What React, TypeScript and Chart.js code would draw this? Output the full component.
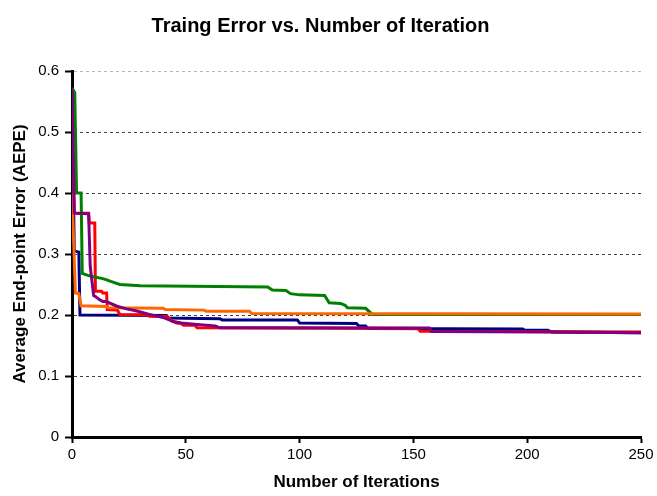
import React, { useEffect, useRef } from 'react';
import { Chart, registerables } from 'chart.js';

Chart.register(...registerables);

// ---- data (iteration, AEPE) ----
const blueIter = [0, 1, 3, 3.5, 41.5, 42, 65, 66, 99, 100, 125, 126, 129, 130, 198, 199, 209, 211, 250];
const blueAEPE = [0.572, 0.305, 0.303, 0.2, 0.199, 0.195, 0.194, 0.192, 0.192, 0.187, 0.186, 0.182, 0.182, 0.178, 0.177, 0.175, 0.175, 0.172, 0.171];

const greenIter = [0, 1.2, 2, 4, 4.5, 7, 9, 13, 15, 17, 21, 30, 86, 88, 94, 96, 100, 111, 113, 118, 120, 121, 129, 132, 250];
const greenAEPE = [0.572, 0.565, 0.4, 0.4, 0.268, 0.265, 0.263, 0.26, 0.258, 0.255, 0.25, 0.248, 0.246, 0.241, 0.24, 0.235, 0.233, 0.232, 0.22, 0.219, 0.216, 0.212, 0.211, 0.201, 0.201];

const orangeIter = [0, 1.5, 3, 4, 15, 16, 40, 41, 58, 59, 78, 79, 250];
const orangeAEPE = [0.4, 0.236, 0.235, 0.215, 0.214, 0.212, 0.211, 0.209, 0.208, 0.206, 0.206, 0.2025, 0.2015];

const redIter = [0, 1, 7.3, 7.6, 10, 10.3, 13, 13.5, 15.2, 15.5, 20, 21, 33, 34, 42, 44, 46, 48, 49, 54, 55, 152, 153, 250];
const redAEPE = [0.52, 0.367, 0.367, 0.351, 0.351, 0.239, 0.239, 0.236, 0.236, 0.209, 0.208, 0.2008, 0.2005, 0.198, 0.197, 0.19, 0.187, 0.186, 0.183, 0.183, 0.179, 0.178, 0.1735, 0.172];

const purpleIter = [0, 1, 7.3, 8, 9.5, 10, 12, 13.5, 15, 19.8, 24, 28, 34, 40, 44, 48, 55, 63, 65, 157, 158, 210, 250];
const purpleAEPE = [0.572, 0.367, 0.366, 0.28, 0.232, 0.231, 0.2254, 0.222, 0.222, 0.2144, 0.21, 0.207, 0.201, 0.196, 0.19, 0.187, 0.1845, 0.182, 0.179, 0.1785, 0.173, 0.172, 0.171];

const xTicks = [0, 50, 100, 150, 200, 250];
const yTickLabels = ['0', '0.1', '0.2', '0.3', '0.4', '0.5', '0.6'];

const FONT = '"Liberation Sans", Arial, sans-serif';

const toPts = (xs: number[], ys: number[]) => xs.map((x, i) => ({ x, y: ys[i] }));

export default function App() {
  const ref = useRef<HTMLCanvasElement | null>(null);

  useEffect(() => {
    if (!ref.current) return;
    const mk = (data: { x: number; y: number }[], color: string) => ({
      data,
      borderColor: color,
      backgroundColor: color,
      borderWidth: 3,
      pointRadius: 0,
      tension: 0,
      fill: false,
    });
    const chart = new Chart(ref.current, {
      type: 'line',
      data: {
        datasets: [
          mk(toPts(purpleIter, purpleAEPE), '#800080'),
          mk(toPts(orangeIter, orangeAEPE), '#FF6600'),
          mk(toPts(greenIter, greenAEPE), '#008000'),
          mk(toPts(redIter, redAEPE), '#FF0000'),
          mk(toPts(blueIter, blueAEPE), '#000080'),
        ],
      },
      options: {
        animation: false,
        responsive: false,
        layout: { padding: { left: 0, right: 16, top: 0, bottom: 0 } },
        plugins: {
          legend: { display: false },
          tooltip: { enabled: false },
          title: {
            display: true,
            text: 'Traing Error vs. Number of Iteration',
            color: '#000',
            font: { family: FONT, size: 20, weight: 'bold' },
            padding: { top: 14, bottom: 33 },
          },
        },
        scales: {
          x: {
            type: 'linear',
            min: 0,
            max: 250,
            afterBuildTicks: (s: any) => {
              s.ticks = xTicks.map((v) => ({ value: v }));
            },
            ticks: {
              color: '#000',
              font: { family: FONT, size: 15 },
              padding: 3,
              maxRotation: 0,
            },
            grid: {
              drawOnChartArea: false,
              drawTicks: true,
              tickLength: 6,
              tickColor: '#000',
              tickWidth: 2,
            },
            border: { color: '#000', width: 3 },
            title: {
              display: true,
              text: 'Number of Iterations',
              color: '#000',
              font: { family: FONT, size: 17, weight: 'bold' },
              padding: { top: 4, bottom: 3 },
            },
            afterFit: (s: any) => {
              s.height = 59;
            },
          },
          y: {
            min: 0,
            max: 0.6,
            ticks: {
              stepSize: 0.1,
              color: '#000',
              font: { family: FONT, size: 15 },
              padding: 6,
              callback: (v: any) => yTickLabels[Math.round(Number(v) * 10)],
            },
            grid: {
              color: (c: any) => {
                const v = c.tick ? c.tick.value : 0;
                if (v > 0.55) return '#b8b8b8';
                if (v < 0.05) return 'rgba(0,0,0,0)';
                return '#404040';
              },
              lineWidth: 1,
              drawTicks: true,
              tickLength: 7,
              tickColor: '#000',
              tickWidth: 2,
              tickBorderDash: [],
            },
            border: { color: '#000', width: 3, dash: [3, 3] },
            title: {
              display: true,
              text: 'Average End-point Error (AEPE)',
              color: '#000',
              font: { family: FONT, size: 17, weight: 'bold' },
              padding: { top: 10, bottom: 0 },
            },
            afterFit: (s: any) => {
              s.width = 72;
            },
          },
        },
      } as any,
    });
    return () => chart.destroy();
  }, []);

  return (
    <div style={{ position: 'fixed', left: 0, top: 0, width: 657, height: 496, background: '#fff' }}>
      <canvas ref={ref} width={657} height={496} style={{ display: 'block' }} />
    </div>
  );
}
